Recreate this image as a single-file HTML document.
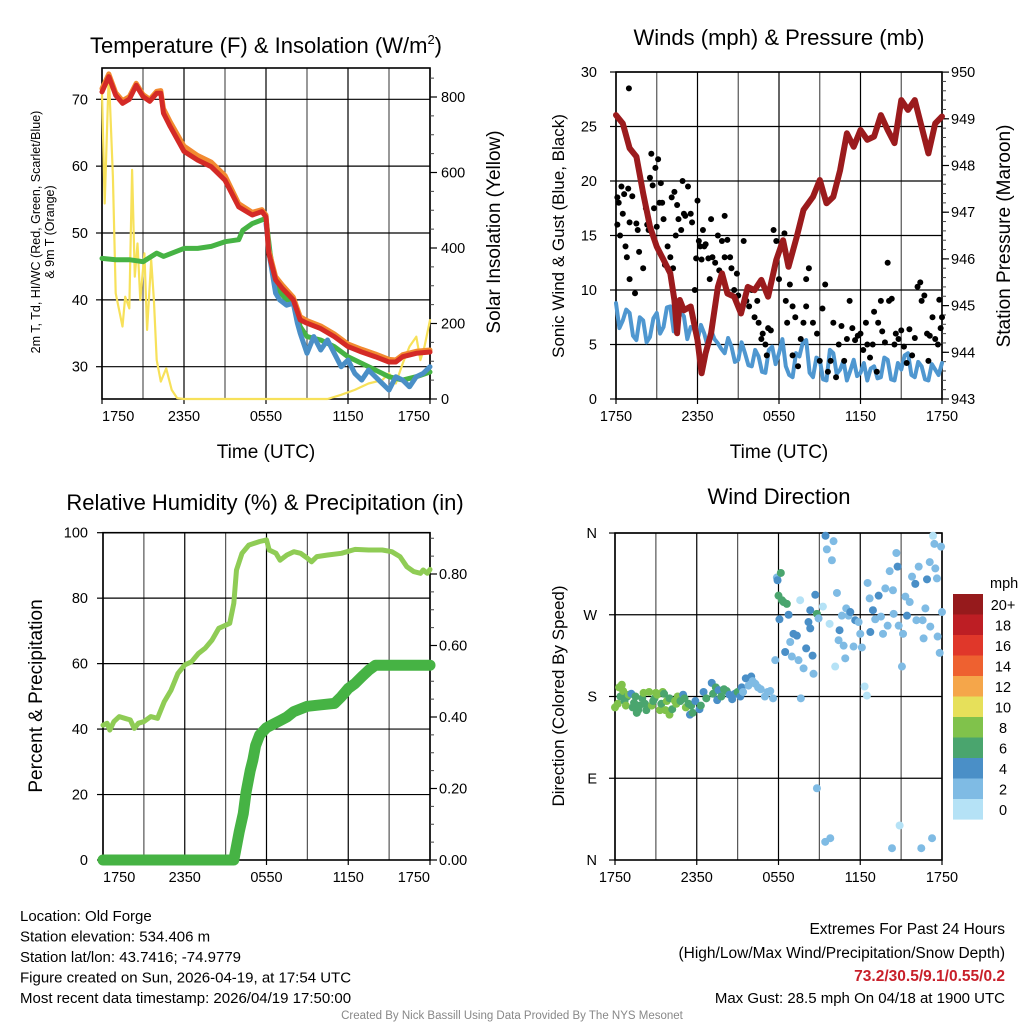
<!DOCTYPE html>
<html><head><meta charset="utf-8">
<style>
html,body{margin:0;padding:0;background:#fff;}
svg{display:block;font-family:"Liberation Sans",Arial,sans-serif;}
</style></head>
<body>
<svg id="chart" width="1024" height="1024" viewBox="0 0 1024 1024" xmlns="http://www.w3.org/2000/svg"></svg>
<script>
// ---------- DATA ----------
const xTickLabels = ["1750","2350","0550","1150","1750"];
const tempTickLabels = [30,40,50,60,70];
const solarTickLabels = [0,200,400,600,800];
const windTickLabels = [0,5,10,15,20,25,30];
const presTickLabels = [943,944,945,946,947,948,949,950];
const rhTickLabels = [0,20,40,60,80,100];
const precipTickLabels = [0,0.2,0.4,0.6,0.8];
const dirTickLabels = ["N","E","S","W","N"];
const dirTickValues = [0,90,180,270,360];

const tempHours = [0,0.5,1,1.5,2,2.5,3,3.5,4,4.3,4.5,5,6,7,8,9,10,11,11.7,12,12.2,12.7,13.2,14,14.5,15,16,17,18,19,20,21,21.5,22,23,24];
const tempRed = [71.1,73.4,70.6,69.4,70,72.1,70.4,69.7,70.9,70.9,67.9,65.9,62.2,60.9,59.9,57.9,53.9,52.7,53.2,52.4,47,43,41.7,40,37,36.5,35.7,34.5,33,32.2,31.5,30.7,30.7,31.5,32,32.2];
const tempOrange = [71.6,73.8,71,69.8,70.4,72.4,70.7,70,71.2,71.3,68.6,66.6,63,61.6,60.6,58.6,54.4,53.1,53.5,52.7,47.5,43.5,42.2,40.4,37.5,36.9,36.1,34.9,33.4,32.6,31.9,31.1,31,31.8,32.3,32.5];
const dewHours = [0,1,2,3,4,4.5,6,7,8,9,10,10.3,11,12,12.3,12.7,13.5,14,14.5,15,16,17,18,19,20,21,22,23,24];
const dewGreen = [46.2,46,46,45.7,47,46.5,47.7,47.7,48,48.7,49,50.4,51.4,52.2,47,42,40,40,36,34.5,34,33,31.5,30.5,29.5,28.5,28,28.5,29.2];
const hiHours = [12,12.3,12.7,13,13.5,14,14.3,14.5,15,15.5,16,16.5,17,17.5,18,18.5,19,19.5,20,20.5,21,21.5,22,22.5,23,23.5,24];
const hiBlue = [51.4,46,41,40,39.2,39.5,36.5,35,32,34.5,32.5,34,32,30,31,29,28,29.5,28.5,27.5,26.5,28.5,28,27,28.5,29,30];
const solarHours = [0,0.2,0.5,0.8,1,1.3,1.5,1.7,2,2.2,2.4,2.6,2.8,3.1,3.3,3.6,3.8,4,4.3,4.7,5.1,5.5,6,16.5,17.5,18.5,19.5,20.5,21,21.5,22,22.5,23,23.3,23.6,24];
const solarVals = [810,518,863,589,280,227,192,271,240,607,324,412,262,386,183,368,262,103,46,81,24,2,0,0,11,24,41,50,68,41,94,139,165,103,139,209];

const presHours = [0,0.5,1,1.5,2,2.5,3,3.5,4,4.3,4.5,4.7,5,5.5,6,6.3,6.6,7,7.5,7.8,8.2,8.7,9.2,9.7,10.2,10.7,11.2,11.8,12.3,12.7,13.3,13.8,14.5,15,15.5,16,16.5,17,17.5,18,18.5,19,19.5,20,20.5,21,21.5,22,22.5,23,23.5,24];
const presVals = [949.08,948.9,948.37,948.19,947.4,946.69,946.26,945.98,945.69,945.12,944.41,945.12,944.9,944.98,944.26,943.55,943.98,944.41,945.4,945.69,945.26,945.19,944.83,945.4,945.33,945.55,945.19,945.98,946.4,945.83,946.47,947.05,947.33,947.69,947.19,947.33,947.9,948.69,948.4,948.76,948.55,948.62,949.08,948.76,948.48,949.4,949.19,949.4,948.83,948.26,948.9,949.05];
const windHours = [0,0.25,0.5,0.75,1,1.25,1.5,1.75,2,2.25,2.5,2.75,3,3.25,3.5,3.75,4,4.25,4.5,4.75,5,5.25,5.5,5.75,6,6.25,6.5,6.75,7,7.25,7.5,7.75,8,8.25,8.5,8.75,9,9.25,9.5,9.75,10,10.25,10.5,10.75,11,11.25,11.5,11.75,12,12.25,12.5,12.75,13,13.25,13.5,13.75,14,14.25,14.5,14.75,15,15.25,15.5,15.75,16,16.25,16.5,16.75,17,17.25,17.5,17.75,18,18.25,18.5,18.75,19,19.25,19.5,19.75,20,20.25,20.5,20.75,21,21.25,21.5,21.75,22,22.25,22.5,22.75,23,23.25,23.5,23.75,24];
const windVals = [8.8,6.5,7.2,8.2,7.9,5.8,5.4,7.5,7.2,5.2,5.7,7.4,7.9,6,6.6,8.4,8.5,6.2,6.9,8,7.6,5.5,6.6,6.4,5.4,6.8,6,4.8,6.3,5.5,5.1,4.6,4.2,5.6,4.8,3.4,3.6,5.2,4.2,3.1,3,4.5,3.9,2.5,2.4,4.5,4.8,3.2,4.2,5.5,3,2.2,2,4.2,3.9,5.2,5.4,2.4,2,3.8,3.6,1.8,1.7,4.5,4.2,2.3,2.7,3.5,1.7,2.6,3.6,2.1,2.4,3.3,1.7,2.8,3,1.9,2,3.8,3.6,1.8,1.7,3.3,2.7,4,4.2,2.2,2,3.4,3,1.8,1.7,3.2,2.7,2.2,3.3];
const gustHours = [0.95,0.1,0.1,0.2,0.3,0.4,0.5,0.6,0.7,0.8,0.9,1,1,1.2,1.4,1.5,1.6,1.7,2,2.2,2.3,2.4,2.5,2.6,2.7,2.8,2.9,3,3.1,3.2,3.3,3.4,3.5,3.6,3.8,4,4.2,4.1,4.3,4.4,4.5,4.6,4.8,4.9,5,5.1,5.3,5.5,5.6,5.8,5.9,6,6.1,6.2,6.3,6.4,6.5,6.6,6.8,6.9,7,7.1,7.3,7.5,7.6,7.8,8,8,8.2,8.4,8.5,8.7,8.9,9,9.2,9.4,9.6,9.8,10,10.2,10.4,10.5,10.7,10.8,11,11.1,11.2,11.4,11.6,11.8,12,12.2,12.4,12.5,12.6,12.8,13,13,13.2,13.4,13.6,13.8,14,14,14.2,14.5,14.8,15,15.2,15.4,15.6,15.8,16,16.2,16.4,16.6,16.8,17,17.2,17.4,17.6,17.8,18,18.2,18.4,18.5,18.7,18.9,19,19.2,19.3,19.5,19.6,19.8,20,20.1,20.3,20.5,20.6,20.8,21,21.2,21.4,21.6,21.8,22,22.2,22.4,22.5,22.7,22.9,23,23.1,23.3,23.5,23.7,23.9,24,23.8];
const gustVals = [28.5,18.5,16,18,15,19.5,17,18.8,14,13,19.3,11,16.2,18.6,9.7,16.1,15.5,13.5,12,17.5,16,15.5,20.3,22.5,19.6,17.5,21.2,15.8,22,18,19.8,18,16.5,12.3,14,13,12,18.5,19,15,17.8,16.5,15.5,20,17,16.8,19.5,17,16.2,10,12.9,18.2,14.5,14,12.8,15.5,14,14.2,12.9,11,16.5,13,12.5,15,11.8,14.5,13,16.8,14.6,13,12,10,11.5,9.5,8,14.5,9,8.5,10,7.5,9,7,5.5,6,5,4,6.5,6.3,15.5,14.5,11,14,15.2,9,7,10.5,8.5,4,7.5,3,5.5,7,11,8.5,12,7,6,3.5,8.3,10.5,2.5,3.5,7,2,5,6.7,3.5,5.5,9,6.5,5.4,5.8,6,4.5,7,5,3.8,5,8,2.5,7,9,6.2,5.2,12.5,9,9.2,5,6,5.5,6.3,4.8,3.3,6.4,4,5.6,10.3,10.7,9,9.5,6,3.5,5.8,7.5,5.5,5,6.5,7.5,9.1];

const rhHours = [0,0.3,0.5,0.8,1.2,1.6,2,2.3,2.6,3,3.5,4,4.5,5,5.5,6,6.5,7,7.5,8,8.5,9.3,9.6,9.8,10.2,10.7,11.5,12,12.2,12.7,13,13.5,14,14.5,15,15.3,15.7,16.5,17.5,18.5,19.5,20.5,21.2,21.8,22.3,22.8,23.3,23.5,23.8,24];
const rhVals = [41.2,41.8,39.7,42.3,43.8,43.3,42.8,40.2,41.8,42.3,43.8,43.3,48.4,51.9,57,59.6,60.6,63.1,64.7,67.2,70.8,72.3,78.4,88.6,93.7,96.2,97.3,97.8,94.7,93.7,91.6,93.2,94.2,93.7,92.2,91.1,92.7,93.2,93.7,94.9,94.7,94.7,94.2,92.7,89.6,88.1,87.6,88.6,87.6,88.8];
const precipHours = [0,9.6,9.7,10,10.3,10.5,10.8,11,11.2,11.5,12,12.5,13,13.5,14,15,16,17,17.5,18,18.5,19,19.5,20,21,24];
const precipVals = [0,0,0.02,0.08,0.13,0.19,0.25,0.28,0.32,0.35,0.37,0.38,0.39,0.40,0.415,0.43,0.434,0.438,0.457,0.48,0.494,0.513,0.531,0.545,0.545,0.545];

const dirHours = [0,0.2,0.3,0.4,0.5,0.6,0.7,0.8,0.9,1,1.2,1.3,1.4,1.5,1.6,1.7,1.8,2,2.1,2.2,2.3,2.5,2.7,2.8,2.9,3,3.1,3.3,3.4,3.5,3.6,3.7,3.8,4,4,4.2,4.4,4.5,4.6,4.8,5,5.1,5.2,5.4,5.5,5.6,5.7,5.9,6.2,6.3,6.5,6.7,7.1,7.2,7.4,7.5,7.6,7.8,8,8.2,8.4,8.6,8.8,9,9.2,9.3,9.4,9.6,9.8,10,10.1,10.3,10.5,10.7,11,11.2,11.4,11.6,11.76,11.88,11.93,12.0,12.17,12.25,12.07,12.37,12.61,12.74,12.49,12.86,12.98,13.1,13.35,13.47,13.59,13.64,13.84,14.03,14.2,14.33,14.33,14.5,14.57,14.7,14.82,14.94,14.82,15.26,15.45,15.55,15.43,15.8,15.75,15.92,16.04,16.16,16.29,16.41,16.48,16.65,16.78,16.9,16.97,17.14,17.27,17.51,17.63,17.88,18.0,18.12,18.32,18.49,18.54,18.69,18.74,18.93,19.1,19.35,19.52,19.67,19.84,20.01,20.16,20.33,20.4,20.45,20.65,20.74,20.82,20.89,21.06,21.14,21.31,21.43,21.63,21.8,22.04,22.12,22.29,22.48,22.58,22.65,22.78,22.9,23.1,23.14,23.27,23.34,23.44,23.51,23.63,23.68,23.83,23.93,24];
const dirVals = [168,172,190,180,193,186,175,170,180,182,183,168,173,180,162,165,170,178,184,172,165,185,170,175,178,184,182,165,172,185,183,165,175,160,178,166,175,172,180,175,182,178,168,172,160,170,162,175,166,170,185,178,195,183,190,176,187,180,188,186,182,177,183,185,180,190,185,200,192,202,197,194,190,188,180,185,186,178,220,311,308,291,316,286,265,284,282,270,229,240,224,249,247,220,286,178,211,233,262,275,255,225,205,292,271,266,79,279,357,342,20,24,260,330,351,213,294,242,253,269,236,222,277,269,273,235,264,262,249,234,191,181,305,288,251,275,265,291,268,249,299,258,318,13,297,271,338,323,258,38,213,249,290,269,284,312,304,264,323,13,264,244,277,309,328,257,24,357,348,321,310,246,228,345,273];
const dirSpeeds = [8,8,8,6,8,8,6,8,6,8,4,6,6,6,6,6,6,6,8,6,6,8,8,6,6,8,8,8,6,8,6,8,8,8,6,6,8,8,8,6,4,6,8,6,4,6,6,4,4,6,4,6,4,6,6,4,4,6,6,6,4,4,4,6,4,4,2,4,2,4,2,2,2,2,2,2,2,2,2,2,4,6,6,6,4,6,6,4,4,2,2,4,4,2,0,2,2,4,4,4,4,4,2,4,6,2,2,0,4,2,2,2,0,2,2,0,2,2,4,2,2,2,2,2,4,2,4,2,2,2,0,0,2,2,4,4,2,4,2,2,2,2,2,2,2,2,2,4,2,0,2,2,2,4,2,2,4,2,2,2,2,2,2,4,2,2,2,0,2,2,2,2,2,2,2];

const cbLabels = ["20+","18","16","14","12","10","8","6","4","2","0"];
const cbColors = ["#961a1c","#bd1e24","#e0372a","#ee6130","#f5a64a","#e6e05a","#80c24b","#4aa56e","#4a8fc7","#7fbbe4","#b5e2f6"];

// ---------- HELPERS ----------
const NS = "http://www.w3.org/2000/svg";
const svg = document.getElementById("chart");
function mk(tag, attrs, parent){
  const e = document.createElementNS(NS, tag);
  for (const k in attrs) e.setAttribute(k, attrs[k]);
  (parent || svg).appendChild(e);
  return e;
}
function txt(str, x, y, size, anchor, parent, extra){
  const t = mk("text", Object.assign({x:x, y:y, "font-size":size, "text-anchor":anchor||"start", fill:"#000"}, extra||{}), parent);
  t.textContent = str;
  return t;
}
function speedColor(s){
  const idx = Math.max(0, Math.min(10, 10 - Math.floor(s/2)));
  return cbColors[idx];
}

function panel(p){
  const g = mk("g", {});
  
  
  const sx = h => p.x0 + (h/24)*(p.x1-p.x0);
  for (let h=0; h<=24; h+=3){
    const l = mk("line", {x1:sx(h), x2:sx(h), y1:p.y0, y2:p.y1, stroke:(h%6===0?"#000":"#555"), "stroke-width":1.2}, g);
    
    
  }
  p.hGrid.forEach(v=>{
    const y = p.ly(v);
    const l = mk("line", {x1:p.x0, x2:p.x1, y1:y, y2:y, stroke:"#000", "stroke-width":1.2}, g);
    
    
  });
  const fr = mk("rect", {x:p.x0, y:p.y0, width:p.x1-p.x0, height:p.y1-p.y0, fill:"none", stroke:"#000", "stroke-width":1.6}, g);
  
  
  for (let i=0;i<xTickLabels.length;i++){
    const h = i*6, x = sx(h);
    mk("line",{x1:x,x2:x,y1:p.y1,y2:p.y1+5,stroke:"#000","stroke-width":1.2},g);
    let anchor="middle", xx=x;
    if (p.insetX){ if(i===0){anchor="start";xx=x;} if(i===4){anchor="end";xx=x;} }
    const t = txt(xTickLabels[i], xx, p.y1+22, 14.5, anchor, g);
    
    
  }
  return {g, sx};
}
function path(g, xs, ys, sx, sy, color, w, name){
  let d = "";
  for (let i=0;i<xs.length;i++) d += (i?"L":"M") + sx(xs[i]).toFixed(1) + "," + sy(ys[i]).toFixed(1);
  const e = mk("path", {d:d, fill:"none", stroke:color, "stroke-width":w, "stroke-linejoin":"round", "stroke-linecap":"round"}, g);
  
  
  return e;
}
function leftTicks(g, p, vals, labels, x){
  vals.forEach((v,i)=>{
    const y = p.ly(v);
    mk("line",{x1:p.x0-6,x2:p.x0,y1:y,y2:y,stroke:"#000","stroke-width":1.2},g);
    const t = txt(labels[i], x, y+5, 14.5, "end", g);
    
    
  });
}
function rightTicks(g, p, vals, labels, x, ry, minor){
  minor.forEach(v=>{ const y=ry(v); mk("line",{x1:p.x1,x2:p.x1+4,y1:y,y2:y,stroke:"#444","stroke-width":1},g); });
  vals.forEach((v,i)=>{
    const y = ry(v);
    mk("line",{x1:p.x1,x2:p.x1+7,y1:y,y2:y,stroke:"#000","stroke-width":1.2},g);
    const t = txt(labels[i], x, y+5, 14.5, "start", g);
    
    
  });
}
function rotLabel(str, x, y, size, name){
  const t = txt(str, 0, 0, size, "middle", svg, {transform:`translate(${x},${y}) rotate(-90)`});
  
  
  return t;
}

// ---------- PANEL 1 ----------
const p1 = {name:"temperature-panel", x0:102, x1:430, y0:68, y1:399, insetX:true,
  ly: T => 366.7 - (T-30)*6.685, hGrid:[30,40,50,60,70]};
const P1 = panel(p1);
const ry1 = W => 399 - W*0.3775;
leftTicks(P1.g, p1, tempTickLabels, tempTickLabels.map(String), 88);
rightTicks(P1.g, p1, solarTickLabels, solarTickLabels.map(String), 441, ry1, [50,100,150,250,300,350,450,500,550,650,700,750,850]);
path(P1.g, solarHours, solarVals, P1.sx, ry1, "#f7e15a", 2.2, "solar-insolation-line");
path(P1.g, dewHours, dewGreen, P1.sx, p1.ly, "#46b344", 5, "dewpoint-line");
path(P1.g, hiHours, hiBlue, P1.sx, p1.ly, "#4a8fc7", 5, "windchill-line");
path(P1.g, tempHours, tempOrange, P1.sx, p1.ly, "#f28a30", 5, "temp-9m-line");
path(P1.g, tempHours, tempRed, P1.sx, p1.ly, "#d42a26", 5, "temp-2m-line");
const t1 = mk("text", {x:266, y:53, "font-size":22, "text-anchor":"middle", fill:"#000"});


t1.appendChild(document.createTextNode("Temperature (F) & Insolation (W/m"));
const sup = mk("tspan", {dy:-9, "font-size":13}, t1);
sup.textContent = "2";
const cl = mk("tspan", {dy:9, "font-size":22}, t1);
cl.textContent = ")";
rotLabel("2m T, Td, HI/WC (Red, Green, Scarlet/Blue)", 40, 232, 12.5, "temperature-y-title");
rotLabel("& 9m T (Orange)", 54, 232, 12.5, "temperature-y-title-2");
rotLabel("Solar Insolation (Yellow)", 500, 232, 19, "solar-y-title");
txt("Time (UTC)", 266, 458, 19, "middle");

// ---------- PANEL 2 ----------
const p2 = {name:"winds-panel", x0:616, x1:942, y0:72, y1:399, insetX:false,
  ly: m => 399 - m*10.9, hGrid:[5,10,15,20,25,30]};
const P2 = panel(p2);
const ry2 = P => 399 - (P-943)*46.7;
leftTicks(P2.g, p2, windTickLabels, windTickLabels.map(String), 597);
const presMinor=[]; for(let v=943.2; v<950; v+=0.2) presMinor.push(v);
rightTicks(P2.g, p2, presTickLabels, presTickLabels.map(String), 951, ry2, presMinor);
path(P2.g, windHours, windVals, P2.sx, p2.ly, "#4f97d0", 4, "sonic-wind-line");
gustHours.forEach((h,i)=>{
  const c = mk("circle",{cx:P2.sx(h), cy:p2.ly(gustVals[i]), r:3, fill:"#000"}, P2.g);
  
  
});
path(P2.g, presHours, presVals, P2.sx, ry2, "#9b1b1d", 6, "pressure-line");
txt("Winds (mph) & Pressure (mb)", 779, 45, 22, "middle");
rotLabel("Sonic Wind & Gust (Blue, Black)", 564, 236, 17, "wind-y-title");
rotLabel("Station Pressure (Maroon)", 1010, 236, 19, "pressure-y-title");
txt("Time (UTC)", 779, 458, 19, "middle");

// ---------- PANEL 3 ----------
const p3 = {name:"humidity-panel", x0:103, x1:430, y0:532.7, y1:860, insetX:true,
  ly: r => 860 - r*3.273, hGrid:[20,40,60,80,100]};
const P3 = panel(p3);
const ry3 = v => 860 - v*357.5;
leftTicks(P3.g, p3, rhTickLabels, rhTickLabels.map(String), 88);
const pm=[]; for(let v=0.05; v<0.92; v+=0.05) pm.push(v);
rightTicks(P3.g, p3, precipTickLabels, precipTickLabels.map(v=>v.toFixed(2)), 439, ry3, pm);
path(P3.g, rhHours, rhVals, P3.sx, p3.ly, "#8fcc55", 5, "relative-humidity-line");
path(P3.g, precipHours, precipVals, P3.sx, ry3, "#46b344", 11, "precipitation-line");
txt("Relative Humidity (%) & Precipitation (in)", 265, 510, 22, "middle");
rotLabel("Percent & Precipitation", 42, 696, 19, "humidity-y-title");

// ---------- PANEL 4 ----------
const p4 = {name:"wind-direction-panel", x0:615, x1:942, y0:533, y1:860, insetX:false,
  ly: d => 860 - d*0.9083, hGrid:[90,180,270,360]};
const P4 = panel(p4);
leftTicks(P4.g, p4, dirTickValues, dirTickLabels, 597);
dirHours.forEach((h,i)=>{
  const c = mk("circle",{cx:P4.sx(h), cy:p4.ly(dirVals[i]), r:4, fill:speedColor(dirSpeeds[i])}, P4.g);
  
  
});
txt("Wind Direction", 779, 504, 22, "middle");
rotLabel("Direction (Colored By Speed)", 564, 696, 17, "direction-y-title");

const cb = mk("g",{});


txt("mph", 990, 588, 14.5, "start", cb);
cbLabels.forEach((lab,i)=>{
  const y = 594 + i*20.5;
  const r = mk("rect",{x:953, y:y, width:30, height:20.6, fill:cbColors[i]}, cb);
  
  
  const t = txt(lab, 1003, y+16, 14.5, "middle", cb);
  
  
});

// ---------- FOOTER ----------
const footL = ["Location: Old Forge","Station elevation: 534.406 m","Station lat/lon: 43.7416; -74.9779","Figure created on Sun, 2026-04-19, at 17:54 UTC","Most recent data timestamp: 2026/04/19 17:50:00"];
footL.forEach((s,i)=>{
  const t = txt(s, 20, 921 + i*20.5, 15, "start");
  
  
});
txt("Extremes For Past 24 Hours", 1005, 934, 15.5, "end");
txt("(High/Low/Max Wind/Precipitation/Snow Depth)", 1005, 958, 15.5, "end");
txt("73.2/30.5/9.1/0.55/0.2", 1005, 981, 15.5, "end", svg, {fill:"#c8202a","font-weight":"bold"});
txt("Max Gust: 28.5 mph On 04/18 at 1900 UTC", 1005, 1003, 15, "end");
txt("Created By Nick Bassill Using Data Provided By The NYS Mesonet", 512, 1019, 11.5, "middle", svg, {fill:"#888"});
</script>
</body></html>
